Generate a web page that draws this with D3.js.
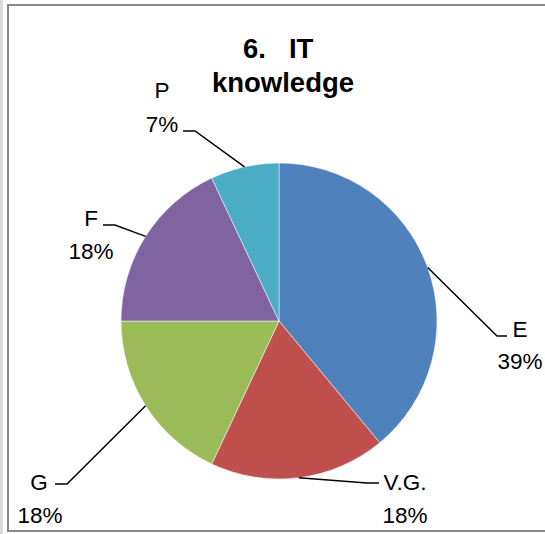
<!DOCTYPE html>
<html>
<head>
<meta charset="utf-8">
<script src="https://cdn.jsdelivr.net/npm/d3@7"></script>
<style>
  html, body { margin: 0; padding: 0; background: #fff; }
  svg { display: block; }
</style>
</head>
<body>
<svg id="chart" width="545" height="534"></svg>
<script>
// ---- data ----
const titleLines = ["6.   IT ", "knowledge"];
const categories = ["E", "V.G.", "G", "F", "P"];
const values = [39, 18, 18, 18, 7];
const colors = ["#4F81BD", "#C0504D", "#9BBB59", "#8064A2", "#4BACC6"];

// ---- layout (label placement, separate from data) ----
const labelLayout = {
  "E":    { text: [520, 337], pct: [520, 369], elbow: [497, 336], end: [507, 336] },
  "V.G.": { text: [405, 490], pct: [405, 523], elbow: [367, 483], end: [379, 483] },
  "G":    { text: [39, 490],  pct: [40, 523],  elbow: [67, 484],  end: [55, 484] },
  "F":    { text: [91, 226],  pct: [91, 259],  elbow: [115, 225], end: [103, 225] },
  "P":    { text: [162, 98],  pct: [162, 132], elbow: [195, 131], end: [183, 131] }
};

const svg = d3.select("#chart");
const W = 545, H = 534;

// background strip + frame
svg.append("rect").attr("x", 0).attr("y", 0).attr("width", 3).attr("height", H).attr("fill", "#dadada");
svg.append("rect").attr("x", 8).attr("y", 5).attr("width", W + 10).attr("height", 526)
  .attr("fill", "#fff").attr("stroke", "#878787").attr("stroke-width", 2);

// title
const title = svg.append("text")
  .attr("font-family", "'Liberation Sans', Arial, sans-serif")
  .attr("font-weight", "bold").attr("font-size", 27.5)
  .attr("text-anchor", "middle").attr("fill", "#000")
  .style("white-space", "pre");
title.append("tspan").attr("x", 282).attr("y", 58).text(titleLines[0]);
title.append("tspan").attr("x", 283).attr("y", 92).text(titleLines[1]);

// pie
const cx = 279, cy = 321, R = 158;
const data = categories.map((c, i) => ({ cat: c, value: values[i], color: colors[i] }));
const total = d3.sum(values);
const pie = d3.pie().value(d => d.value).sort(null);
const arcs = pie(data);
const arc = d3.arc().innerRadius(0).outerRadius(R);

const g = svg.append("g").attr("transform", `translate(${cx},${cy})`);
g.selectAll("path").data(arcs).join("path")
  .attr("d", arc)
  .attr("fill", d => d.data.color)
  .attr("stroke", "#fff").attr("stroke-width", 0.5);

// leader lines + labels
const line = d3.line();
arcs.forEach(a => {
  const L = labelLayout[a.data.cat];
  const mid = (a.startAngle + a.endAngle) / 2;
  const sx = cx + R * Math.sin(mid), sy = cy - R * Math.cos(mid);
  svg.append("path")
    .attr("d", line([[sx, sy], L.elbow, L.end]))
    .attr("fill", "none").attr("stroke", "#000").attr("stroke-width", 1.5);
  const t = svg.append("g")
    .attr("font-family", "'Liberation Sans', Arial, sans-serif")
    .attr("font-size", 22.5).attr("fill", "#000").attr("text-anchor", "middle");
  t.append("text").attr("x", L.text[0]).attr("y", L.text[1]).text(a.data.cat);
  t.append("text").attr("x", L.pct[0]).attr("y", L.pct[1])
    .text(Math.round(a.data.value / total * 100) + "%");
});
</script>
</body>
</html>
